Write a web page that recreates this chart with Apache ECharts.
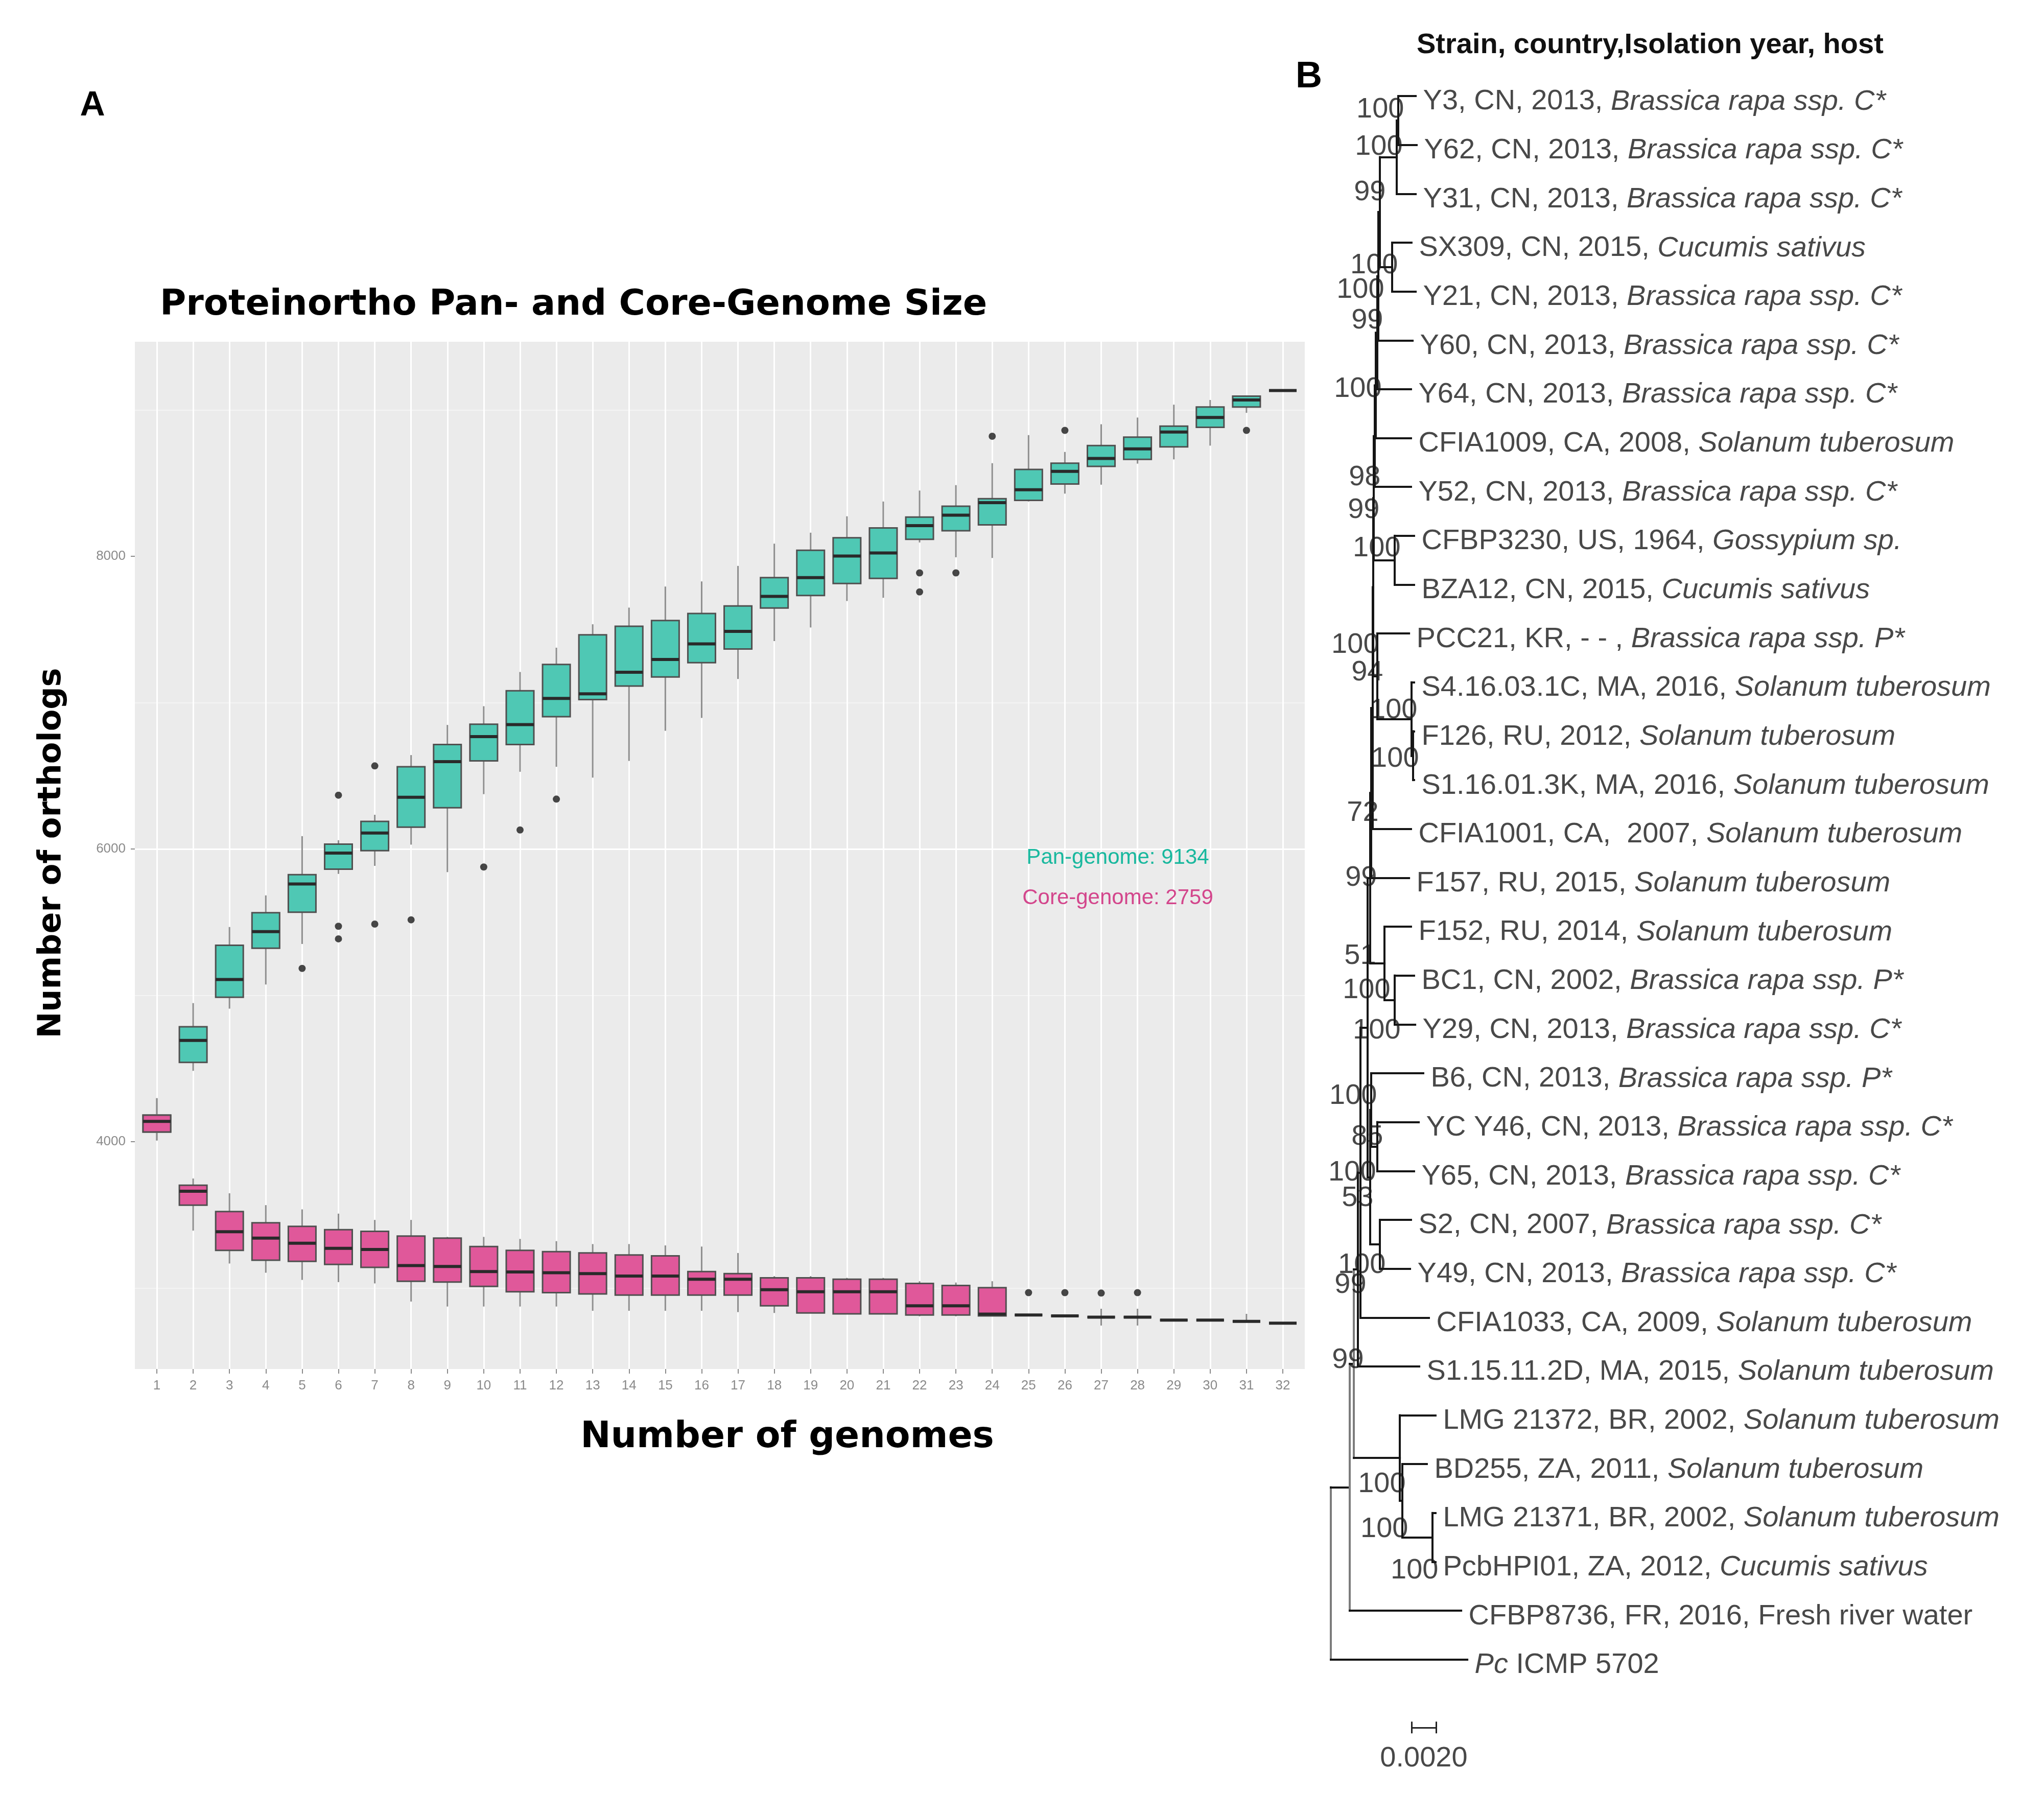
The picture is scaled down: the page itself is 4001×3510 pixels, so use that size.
<!DOCTYPE html>
<html><head><meta charset="utf-8">
<script src="https://cdn.jsdelivr.net/npm/echarts@6/dist/echarts.min.js"></script>
<style>html,body{margin:0;padding:0;background:#fff}#c{width:4001px;height:3510px}</style>
</head><body><div id="c"></div>
<script>
// ---------------- Panel A data ----------------
const genomeCounts = ['1','2','3','4','5','6','7','8','9','10','11','12','13','14','15','16','17','18','19','20','21','22','23','24','25','26','27','28','29','30','31','32'];
// [lower whisker, Q1, median, Q3, upper whisker]
const panStats = [
  [4008,4066,4138,4181,4297],[4484,4542,4692,4785,4947],[4909,4987,5108,5342,5467],[5074,5322,5435,5565,5683],
  [5351,5568,5761,5825,6088],[5830,5862,5972,6033,6060],[5885,5989,6109,6189,6234],[6030,6149,6354,6562,6642],
  [5842,6282,6597,6714,6848],[6375,6602,6768,6853,6976],[6528,6714,6850,7082,7210],[6562,6904,7029,7261,7376],
  [6488,7021,7061,7464,7536],[6602,7114,7208,7522,7650],[6808,7176,7295,7562,7794],[6896,7274,7402,7610,7829],
  [7162,7367,7487,7661,7935],[7421,7647,7727,7855,8087],[7514,7733,7855,8042,8162],[7695,7815,8002,8127,8274],
  [7717,7850,8023,8194,8375],[8095,8117,8210,8269,8450],[7994,8175,8282,8343,8487],[7989,8215,8367,8394,8637],
  [8375,8383,8455,8594,8829],[8429,8495,8581,8637,8714],[8490,8615,8669,8757,8903],[8634,8663,8735,8815,8949],
  [8663,8749,8850,8890,9037],[8757,8882,8949,9021,9069],[8981,9021,9069,9095,9100],[9134,9134,9134,9134,9134]
];
const coreStats = [
  [4008,4066,4138,4181,4297],[3392,3566,3661,3702,3748],[3167,3257,3384,3522,3647],[3104,3190,3341,3445,3566],
  [3055,3182,3306,3421,3537],[3040,3161,3271,3398,3508],[3031,3141,3263,3387,3465],[2907,3046,3153,3355,3465],
  [2873,3040,3147,3341,3349],[2873,3011,3112,3283,3349],[2873,2974,3109,3257,3335],[2873,2968,3104,3248,3320],
  [2844,2959,3098,3239,3300],[2844,2951,3081,3225,3300],[2844,2951,3081,3219,3291],[2844,2951,3060,3112,3283],
  [2835,2951,3060,3098,3239],[2829,2878,2988,3069,3081],[2829,2829,2974,3069,3081],[2823,2823,2974,3060,3069],
  [2823,2823,2974,3060,3069],[2806,2815,2878,3031,3046],[2806,2815,2878,3017,3037],[2809,2809,2821,3002,3046],
  [2815,2815,2815,2815,2815],[2809,2809,2809,2809,2809],[2743,2800,2800,2800,2858],[2743,2800,2800,2800,2858],
  [2772,2780,2780,2780,2790],[2780,2780,2780,2780,2780],[2772,2772,2772,2772,2823],[2759,2759,2759,2759,2759]
];
// [number of genomes, value]
const panOutliers = [[5,5184],[6,6368],[6,5472],[6,5386],[7,6568],[7,5487],[8,5516],[10,5877],[11,6130],[12,6341],
  [22,7887],[22,7757],[23,7887],[24,8821],[26,8861],[31,8861]];
const coreOutliers = [[25,2968],[26,2968],[27,2965],[28,2968]];
const yTickValues = [4000, 6000, 8000];
const panTotal = 9134, coreTotal = 2759;

// ---------------- Panel B data (phylogeny) ----------------
const leafStrain = ['Y3','Y62','Y31','SX309','Y21','Y60','Y64','CFIA1009','Y52','CFBP3230','BZA12','PCC21',
  'S4.16.03.1C','F126','S1.16.01.3K','CFIA1001','F157','F152','BC1','Y29','B6','YC Y46','Y65','S2','Y49',
  'CFIA1033','S1.15.11.2D','LMG 21372','BD255','LMG 21371','PcbHPI01','CFBP8736','Pc ICMP 5702'];
const leafCountry = ['CN','CN','CN','CN','CN','CN','CN','CA','CN','US','CN','KR','MA','RU','MA','CA','RU','RU',
  'CN','CN','CN','CN','CN','CN','CN','CA','MA','BR','ZA','BR','ZA','FR',''];
const leafYear = ['2013','2013','2013','2015','2013','2013','2013','2008','2013','1964','2015','- - ','2016','2012',
  '2016',' 2007','2015','2014','2002','2013','2013','2013','2013','2007','2013','2009','2015','2002','2011','2002',
  '2012','2016',''];
const leafHost = ['Brassica rapa ssp. C*','Brassica rapa ssp. C*','Brassica rapa ssp. C*','Cucumis sativus',
  'Brassica rapa ssp. C*','Brassica rapa ssp. C*','Brassica rapa ssp. C*','Solanum tuberosum','Brassica rapa ssp. C*',
  'Gossypium sp.','Cucumis sativus','Brassica rapa ssp. P*','Solanum tuberosum','Solanum tuberosum','Solanum tuberosum',
  'Solanum tuberosum','Solanum tuberosum','Solanum tuberosum','Brassica rapa ssp. P*','Brassica rapa ssp. C*',
  'Brassica rapa ssp. P*','Brassica rapa ssp. C*','Brassica rapa ssp. C*','Brassica rapa ssp. C*','Brassica rapa ssp. C*',
  'Solanum tuberosum','Solanum tuberosum','Solanum tuberosum','Solanum tuberosum','Solanum tuberosum','Cucumis sativus',
  'Fresh river water',''];
const leafParent = ['Q','Q','P','S','S','A2','A3','A4','A5','CB','CB','T0','T1','T2','T2','n15','n16','F','G','G',
  'M1','H','H','SY','SY','n25','K','L','L2','L3','L3','I','root'];
const leafDepth = [0.00692,0.00700,0.00692,0.00658,0.00692,0.00667,0.00654,0.00654,0.00654,0.00679,0.00679,0.00638,
  0.00679,0.00679,0.00679,0.00654,0.00638,0.00654,0.00679,0.00688,0.00754,0.00717,0.00679,0.00654,0.00646,
  0.00800,0.00721,0.00854,0.00783,0.00854,0.00854,0.01063,0.01113];
const nodeName   = ['root','I','J','K','n25','n24','n19','n16','n15','n14','A6','A5','A4','A3','A2','A1','P','Q','S','CB','T0','T1','T2','F','G','M','M1','H','SY','L','L2','L3'];
const nodeParent = [null,'root','I','J','K','n25','n24','n19','n16','n15','n14','A6','A5','A4','A3','A2','A1','P','A1','A6','n14','T0','T1','n19','F','n24','M','M1','M','J','L','L2'];
const nodeDepth  = [0,0.00154,0.00188,0.00221,0.00242,0.00300,0.00321,0.00329,0.00342,0.00346,0.00350,0.00358,0.00367,0.00379,0.00388,0.00400,0.00538,0.00550,0.00500,0.00521,0.00379,0.00658,0.00671,0.00438,0.00521,0.00321,0.00329,0.00379,0.00400,0.00563,0.00583,0.00829];
// bootstrap support: node, value, row where the value is printed
const bootNode  = ['Q','P','A1','S','A2','A3','A4','A5','A6','CB','n14','T0','T1','T2','n15','n16','n19','F','G','M1','H','M','n24','SY','n25','K','L','L2','L3'];
const bootValue = [100,100,99,100,100,99,100,98,99,100,100,94,100,100,72,99,51,100,100,100,85,100,53,100,99,99,100,100,100];
const bootRow   = [0.28,1.04,1.97,3.47,3.97,4.6,6.0,7.8,8.47,9.26,11.23,11.8,12.57,13.57,14.67,16.0,17.6,18.3,19.13,20.47,21.3,22.03,22.56,23.93,24.33,25.87,28.41,29.33,30.18];
const scaleBarLen = 0.002, scaleBarStart = 0.00658, scaleBarRow = 33.39;

// ---------------- build tree geometry ----------------
const nodeIndex = {}; nodeName.forEach((n, i) => nodeIndex[n] = i);
const kids = nodeName.map(() => []);
leafParent.forEach((p, li) => kids[nodeIndex[p]].push({leaf: true, i: li}));
nodeParent.forEach((p, ni) => { if (p) kids[nodeIndex[p]].push({leaf: false, i: ni}); });
const nodeY = [];
function yOf(c) { return c.leaf ? c.i : nodeRow(c.i); }
function nodeRow(ni) {
  if (nodeY[ni] === undefined) {
    const ys = kids[ni].map(yOf);
    nodeY[ni] = (Math.min(...ys) + Math.max(...ys)) / 2;
  }
  return nodeY[ni];
}
const treeSegs = [];
nodeName.forEach((n, ni) => {
  const d = nodeDepth[ni];
  const ys = kids[ni].map(yOf);
  treeSegs.push({coords: [[d, Math.min(...ys)], [d, Math.max(...ys)]],
    lineStyle: {color: d < 0.002 ? '#7c7c7c' : '#151515'}});
  kids[ni].forEach(c => {
    const cd = c.leaf ? leafDepth[c.i] : nodeDepth[c.i];
    treeSegs.push({coords: [[d, yOf(c)], [cd, yOf(c)]]});
  });
});
const scaleSegs = [
  {coords: [[scaleBarStart, scaleBarRow], [scaleBarStart + scaleBarLen, scaleBarRow]]},
  {coords: [[scaleBarStart, scaleBarRow - 0.12], [scaleBarStart, scaleBarRow + 0.12]]},
  {coords: [[scaleBarStart + scaleBarLen, scaleBarRow - 0.12], [scaleBarStart + scaleBarLen, scaleBarRow + 0.12]]}
];
function leafText(i) {
  if (!leafCountry[i]) {
    const k = leafStrain[i].indexOf(' ');
    return '{i|' + leafStrain[i].slice(0, k) + '}{n|' + leafStrain[i].slice(k) + '}';
  }
  const head = leafStrain[i] + ', ' + leafCountry[i] + ', ' + leafYear[i] + ', ';
  const italic = leafHost[i] !== 'Fresh river water';
  return '{n|' + head + '}' + (italic ? '{i|' : '{n|') + leafHost[i] + '}';
}

// ---------------- box renderer ----------------
function boxRenderer(fill) {
  return function (params, api) {
    const i = api.value(0);
    const lo = api.coord([i, api.value(1)]);
    const q1 = api.coord([i, api.value(2)]);
    const md = api.coord([i, api.value(3)]);
    const q3 = api.coord([i, api.value(4)]);
    const hi = api.coord([i, api.value(5)]);
    const w = api.size([1, 0])[0] * 0.76;
    const cx = md[0];
    const ws = {stroke: '#8e8e8e', lineWidth: 3};
    return {type: 'group', children: [
      {type: 'line', shape: {x1: cx, y1: hi[1], x2: cx, y2: q3[1]}, style: ws},
      {type: 'line', shape: {x1: cx, y1: q1[1], x2: cx, y2: lo[1]}, style: ws},
      {type: 'rect', shape: {x: cx - w / 2, y: q3[1], width: w, height: Math.max(q1[1] - q3[1], 0)},
        style: {fill: fill, stroke: '#505050', lineWidth: 3}},
      {type: 'line', shape: {x1: cx - w / 2, y1: md[1], x2: cx + w / 2, y2: md[1]},
        style: {stroke: '#2a2a2a', lineWidth: 6}}
    ]};
  };
}

const chart = echarts.init(document.getElementById('c'), null, {renderer: 'canvas'});
const tickFont = {color: '#8a8a8a', fontSize: 26, fontFamily: 'Liberation Sans'};
const treeFont = {fontSize: 56, fontFamily: 'Liberation Sans', color: '#1a1a1a'};
chart.setOption({
  animation: false,
  backgroundColor: '#ffffff',
  grid: [
    {left: 264, top: 669, width: 2290, height: 2011, show: true, backgroundColor: '#EBEBEB', borderWidth: 0},
    {left: 264, top: 516.3, width: 2290, height: 2291.4, show: false},
    {left: 307, top: 669, width: 2204, height: 2011, show: false},
    {left: 2605, top: 188, width: 1320, height: 3060.8, show: false}
  ],
  xAxis: [
    {gridIndex: 0, type: 'value', show: false},
    {gridIndex: 1, type: 'value', show: false},
    {gridIndex: 2, type: 'category', data: genomeCounts, boundaryGap: false,
      axisLine: {show: false},
      axisTick: {show: true, length: 9, lineStyle: {color: '#8a8a8a', width: 2}},
      axisLabel: Object.assign({interval: 0, margin: 20}, tickFont),
      splitLine: {show: true, lineStyle: {color: '#ffffff', width: 3}}},
    {gridIndex: 3, type: 'value', min: 0, max: 0.055, show: false}
  ],
  yAxis: [
    {gridIndex: 0, type: 'value', show: false},
    {gridIndex: 1, type: 'value', min: 2000, max: 10000, interval: 2000,
      axisLine: {show: false},
      axisTick: {show: true, length: 8, customValues: yTickValues, lineStyle: {color: '#8a8a8a', width: 2}},
      axisLabel: Object.assign({margin: 18, customValues: yTickValues, formatter: v => String(v)}, tickFont),
      splitLine: {show: true, showMinLine: false, showMaxLine: false, lineStyle: {color: '#ffffff', width: 3}},
      minorTick: {show: false, splitNumber: 2},
      minorSplitLine: {show: true, lineStyle: {color: '#f7f7f7', width: 1.5}}},
    {gridIndex: 2, type: 'value', min: 2446, max: 9467, show: false},
    {gridIndex: 3, type: 'value', min: 0, max: 32, inverse: true, show: false}
  ],
  graphic: [
    {type: 'text', z: 100, x: 181, y: 207, style: {text: 'A', font: 'bold 68px "Liberation Sans"', fill: '#000', align: 'center', verticalAlign: 'middle'}},
    {type: 'text', z: 100, x: 313, y: 598, style: {text: 'Proteinortho Pan- and Core-Genome Size', font: 'bold 70px "DejaVu Sans"', fill: '#000', align: 'left', verticalAlign: 'middle'}},
    {type: 'text', z: 100, x: 102, y: 1670, rotation: Math.PI / 2, style: {text: 'Number of orthologs', font: 'bold 62px "DejaVu Sans"', fill: '#000', align: 'center', verticalAlign: 'middle'}},
    {type: 'text', z: 100, x: 1541, y: 2815, style: {text: 'Number of genomes', font: 'bold 71px "DejaVu Sans"', fill: '#000', align: 'center', verticalAlign: 'middle'}},
    {type: 'text', z: 100, x: 2188, y: 1679, style: {text: 'Pan-genome: ' + panTotal, font: '42px "Liberation Sans"', fill: '#19B89E', align: 'center', verticalAlign: 'middle'}},
    {type: 'text', z: 100, x: 2188, y: 1758, style: {text: 'Core-genome: ' + coreTotal, font: '42px "Liberation Sans"', fill: '#D3468C', align: 'center', verticalAlign: 'middle'}},
    {type: 'text', z: 100, x: 2562, y: 151, style: {text: 'B', font: 'bold 72px "Liberation Sans"', fill: '#000', align: 'center', verticalAlign: 'middle'}},
    {type: 'text', z: 100, x: 2773, y: 89, style: {text: 'Strain, country,Isolation year, host', font: 'bold 56px "Liberation Sans"', fill: '#111', align: 'left', verticalAlign: 'middle'}}
  ],
  series: [
    {type: 'custom', name: 'Pan-genome', xAxisIndex: 2, yAxisIndex: 2, renderItem: boxRenderer('#4FC8B4'),
      encode: {x: 0, y: [1, 2, 3, 4, 5]}, data: panStats.map((s, i) => [i].concat(s)), z: 3},
    {type: 'custom', name: 'Core-genome', xAxisIndex: 2, yAxisIndex: 2, renderItem: boxRenderer('#E0589A'),
      encode: {x: 0, y: [1, 2, 3, 4, 5]}, data: coreStats.map((s, i) => [i].concat(s)), z: 4},
    {type: 'scatter', name: 'Pan outliers', xAxisIndex: 2, yAxisIndex: 2, symbolSize: 14, z: 5,
      itemStyle: {color: '#1a1a1a'}, data: panOutliers.map(p => [p[0] - 1, p[1]])},
    {type: 'scatter', name: 'Core outliers', xAxisIndex: 2, yAxisIndex: 2, symbolSize: 14, z: 5,
      itemStyle: {color: '#1a1a1a'}, data: coreOutliers.map(p => [p[0] - 1, p[1]])},
    {type: 'lines', name: 'tree', coordinateSystem: 'cartesian2d', xAxisIndex: 3, yAxisIndex: 3, clip: false,
      polyline: false, silent: true, lineStyle: {width: 4, color: '#151515', opacity: 1, cap: 'square'}, data: treeSegs},
    {type: 'lines', name: 'scale', coordinateSystem: 'cartesian2d', xAxisIndex: 3, yAxisIndex: 3, clip: false,
      polyline: false, silent: true, lineStyle: {width: 3, color: '#222', opacity: 1}, data: scaleSegs},
    {type: 'scatter', name: 'leaves', xAxisIndex: 3, yAxisIndex: 3, clip: false, silent: true, symbolSize: 1,
      itemStyle: {color: 'rgba(0,0,0,0)'},
      data: leafStrain.map((s, i) => ({name: s, value: [leafDepth[i], i]})),
      label: {show: true, position: 'right', distance: 14, offset: [0, 11],
        formatter: p => leafText(p.dataIndex),
        rich: {n: Object.assign({}, treeFont), i: Object.assign({fontStyle: 'italic'}, treeFont)}}},
    {type: 'scatter', name: 'bootstrap', xAxisIndex: 3, yAxisIndex: 3, clip: false, silent: true, symbolSize: 1,
      itemStyle: {color: 'rgba(0,0,0,0)'},
      data: bootNode.map((n, k) => ({value: [nodeDepth[nodeIndex[n]], bootRow[k]], support: bootValue[k]})),
      label: Object.assign({show: true, position: 'left', distance: 0, offset: [12, 0],
        formatter: p => String(bootValue[p.dataIndex])}, treeFont)},
    {type: 'scatter', name: 'scale label', xAxisIndex: 3, yAxisIndex: 3, clip: false, silent: true, symbolSize: 1,
      itemStyle: {color: 'rgba(0,0,0,0)'},
      data: [[scaleBarStart + scaleBarLen / 2, scaleBarRow + 0.64]],
      label: Object.assign({show: true, position: 'inside', formatter: () => scaleBarLen.toFixed(4)}, treeFont)}
  ]
});
</script>
</body></html>
